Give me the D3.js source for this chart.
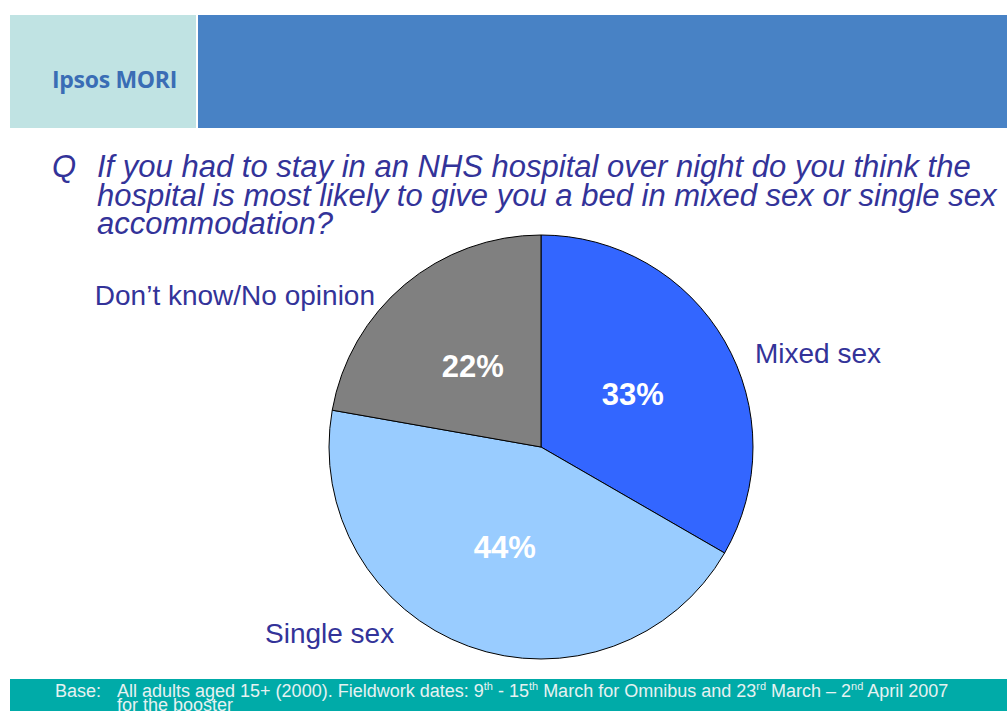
<!DOCTYPE html>
<html>
<head>
<meta charset="utf-8">
<script src="https://cdnjs.cloudflare.com/ajax/libs/d3/7.8.5/d3.min.js"></script>
<style>
  body { margin: 0; background: #fff; }
  svg { display: block; }
</style>
</head>
<body>
<svg width="1007" height="711"></svg>
<script>
var categories = ["Mixed sex", "Single sex", "Don\u2019t know/No opinion"];
var values = [33, 44, 22];
var colors = ["#3366ff", "#99ccff", "#808080"];
var questionLines = [
  "If you had to stay in an NHS hospital over night do you think the",
  "hospital is most likely to give you a bed in mixed sex or single sex",
  "accommodation?"
];

var svg = d3.select("svg");
var navy = "#333399";

// header
svg.append("rect").attr("x", 10).attr("y", 15).attr("width", 186).attr("height", 113).attr("fill", "#c0e3e3");
svg.append("rect").attr("x", 198).attr("y", 15).attr("width", 809).attr("height", 113).attr("fill", "#4882c5");
svg.append("text").attr("x", 52).attr("y", 88)
  .style("font", "bold 23px 'Open Sans', sans-serif")
  .style("letter-spacing", "-0.3px")
  .attr("fill", "#3a6db5").text("Ipsos MORI");

// question
var q = svg.append("g").style("font", "italic 31px 'Liberation Sans', Arial, sans-serif").attr("fill", navy);
q.append("text").attr("x", 52).attr("y", 177).text("Q");
q.selectAll(".ql").data(questionLines).enter().append("text")
  .attr("class", "ql")
  .attr("x", 97)
  .attr("y", function(d, i) { return 177 + i * 28.5; })
  .text(function(d) { return d; });

// pie
var cx = 541, cy = 447, radius = 212;
var g = svg.append("g").attr("transform", "translate(" + cx + "," + cy + ")");

var pie = d3.pie().sort(null).value(function(d) { return d; });
var arc = d3.arc().innerRadius(0).outerRadius(radius);
var labelArc = d3.arc().innerRadius(106).outerRadius(106);
var arcs = pie(values);

g.selectAll("path.slice").data(arcs).enter().append("path")
  .attr("class", "slice")
  .attr("d", arc)
  .attr("fill", function(d, i) { return colors[i]; })
  .attr("stroke", "#000")
  .attr("stroke-width", 1);

g.selectAll("text.pct").data(arcs).enter().append("text")
  .attr("class", "pct")
  .attr("transform", function(d) { return "translate(" + labelArc.centroid(d) + ")"; })
  .attr("text-anchor", "middle")
  .attr("dy", "0.36em")
  .style("font", "bold 31px 'Liberation Sans', Arial, sans-serif")
  .attr("fill", "#fff")
  .text(function(d) { return d.value + "%"; });

// outside category labels
var outerPos = {
  "Mixed sex": { dx: 214, dy: -84, anchor: "start" },
  "Single sex": { dx: -276, dy: 196, anchor: "start" },
  "Don\u2019t know/No opinion": { dx: -166, dy: -142, anchor: "end" }
};
g.selectAll("text.cat").data(categories).enter().append("text")
  .attr("class", "cat")
  .attr("x", function(d) { return outerPos[d].dx; })
  .attr("y", function(d) { return outerPos[d].dy; })
  .attr("text-anchor", function(d) { return outerPos[d].anchor; })
  .style("font", "28px 'Liberation Sans', Arial, sans-serif")
  .attr("fill", navy)
  .text(function(d) { return d; });

// footer
svg.append("rect").attr("x", 10).attr("y", 679).attr("width", 997).attr("height", 32).attr("fill", "#00aba8");
var f = svg.append("g").style("font", "18px 'Liberation Sans', Arial, sans-serif").attr("fill", "#e6f2f2");
f.append("text").attr("x", 55).attr("y", 697).text("Base:");
var t = f.append("text").attr("x", 117).attr("y", 697);
t.append("tspan").text("All adults aged 15+ (2000).  Fieldwork dates: 9");
t.append("tspan").attr("dy", -7).style("font-size", "11px").text("th");
t.append("tspan").attr("dy", 7).text(" - 15");
t.append("tspan").attr("dy", -7).style("font-size", "11px").text("th");
t.append("tspan").attr("dy", 7).text(" March for Omnibus and 23");
t.append("tspan").attr("dy", -7).style("font-size", "11px").text("rd");
t.append("tspan").attr("dy", 7).text(" March \u2013 2");
t.append("tspan").attr("dy", -7).style("font-size", "11px").text("nd");
t.append("tspan").attr("dy", 7).text(" April 2007");
f.append("text").attr("x", 117).attr("y", 711).text("for the booster");
</script>
</body>
</html>
